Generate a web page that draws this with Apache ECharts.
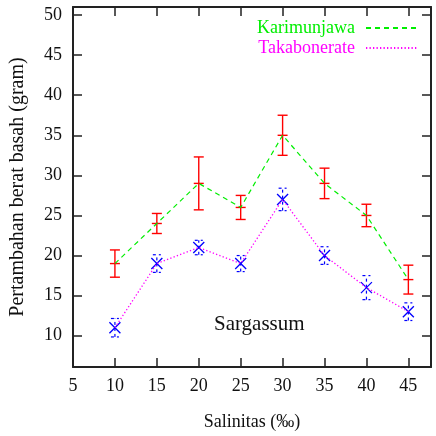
<!DOCTYPE html>
<html>
<head>
<meta charset="utf-8">
<script src="https://cdn.jsdelivr.net/npm/echarts@6/dist/echarts.min.js"></script>
<style>html,body{margin:0;padding:0;background:#fff}#c{width:436px;height:436px}</style>
</head>
<body>
<div id="c"></div>
<script>
var salinity = [10, 15, 20, 25, 30, 35, 40, 45];
var karimunjawa = [19, 24, 29, 26, 35, 29, 25, 17];
var karimunjawaErr = [1.7, 1.25, 3.3, 1.5, 2.5, 1.9, 1.4, 1.8];
var takabonerate = [11, 19, 21, 19, 27, 20, 16, 13];
var takabonerateErr = [1.15, 1.1, 0.9, 1.0, 1.4, 1.1, 1.5, 1.1];
var xTicks = [5, 10, 15, 20, 25, 30, 35, 40, 45];
var yTicks = [10, 15, 20, 25, 30, 35, 40, 45, 50];

var FONT = 'Liberation Serif';
var TXT = '#111';

function pairs(v) { return salinity.map(function (x, i) { return [x, v[i]]; }); }
function errData(v, e) { return salinity.map(function (x, i) { return [x, v[i] - e[i], v[i] + e[i], v[i]]; }); }

function redErr(params, api) {
  var x = api.value(0);
  var lo = api.coord([x, api.value(1)]);
  var hi = api.coord([x, api.value(2)]);
  var c = api.coord([x, api.value(3)]);
  var w = 5;
  var st = { stroke: '#ff0000', lineWidth: 1.4 };
  return { type: 'group', children: [
    { type: 'line', shape: { x1: lo[0], y1: lo[1], x2: hi[0], y2: hi[1] }, style: st },
    { type: 'line', shape: { x1: lo[0] - w, y1: lo[1], x2: lo[0] + w, y2: lo[1] }, style: st },
    { type: 'line', shape: { x1: hi[0] - w, y1: hi[1], x2: hi[0] + w, y2: hi[1] }, style: st },
    { type: 'line', shape: { x1: c[0] - w, y1: c[1], x2: c[0] + w, y2: c[1] }, style: st }
  ]};
}
function blueErr(params, api) {
  var x = api.value(0);
  var lo = api.coord([x, api.value(1)]);
  var hi = api.coord([x, api.value(2)]);
  var c = api.coord([x, api.value(3)]);
  var w = 4, m = 5.5;
  var st = { stroke: '#0000ff', lineWidth: 1.2, lineDash: [3, 3] };
  var sm = { stroke: '#0000ff', lineWidth: 1.3 };
  return { type: 'group', children: [
    { type: 'line', shape: { x1: lo[0], y1: lo[1], x2: hi[0], y2: hi[1] }, style: st },
    { type: 'line', shape: { x1: lo[0] - w, y1: lo[1], x2: lo[0] + w, y2: lo[1] }, style: st },
    { type: 'line', shape: { x1: hi[0] - w, y1: hi[1], x2: hi[0] + w, y2: hi[1] }, style: st },
    { type: 'line', shape: { x1: c[0] - m, y1: c[1] - m, x2: c[0] + m, y2: c[1] + m }, style: sm },
    { type: 'line', shape: { x1: c[0] - m, y1: c[1] + m, x2: c[0] + m, y2: c[1] - m }, style: sm }
  ]};
}

var axLine = { show: true, lineStyle: { color: '#222', width: 2 } };
var chart = echarts.init(document.getElementById('c'), null, { renderer: 'canvas' });
chart.setOption({
  animation: false,
  backgroundColor: '#fff',
  textStyle: { fontFamily: FONT },
  grid: { left: 73, right: 5, top: 7, bottom: 60 },
  title: { text: 'Sargassum', left: 209, top: 309, textStyle: { fontFamily: FONT, fontSize: 21, fontWeight: 'normal', color: TXT } },
  legend: {
    orient: 'vertical', align: 'right', right: 13, top: 14,
    itemWidth: 51, itemHeight: 14, itemGap: 2,
    textStyle: { fontFamily: FONT, fontSize: 18, padding: [0, 6, 0, 0] },
    itemStyle: { color: 'transparent', borderColor: 'transparent', borderWidth: 0 },
    data: [
      { name: 'Karimunjawa', textStyle: { color: '#00ee00' } },
      { name: 'Takabonerate', textStyle: { color: '#ff00ff' } }
    ]
  },
  xAxis: [
    { type: 'value', min: 5, max: 47.7, position: 'bottom',
      name: 'Salinitas (‰)', nameLocation: 'middle', nameGap: 46,
      nameTextStyle: { fontFamily: FONT, fontSize: 18, color: TXT },
      axisLine: axLine, splitLine: { show: false },
      axisTick: { inside: true, length: 9, customValues: xTicks, lineStyle: { color: '#222', width: 1.5 } },
      axisLabel: { customValues: xTicks, fontFamily: FONT, fontSize: 18, color: TXT, margin: 10 } },
    { type: 'value', min: 5, max: 47.7, position: 'top',
      axisLine: axLine, splitLine: { show: false },
      axisTick: { inside: true, length: 9, customValues: xTicks, lineStyle: { color: '#222', width: 1.5 } },
      axisLabel: { show: false } }
  ],
  yAxis: [
    { type: 'value', min: 6.1, max: 51, position: 'left',
      name: 'Pertambahan berat basah (gram)', nameLocation: 'middle', nameGap: 45,
      nameTextStyle: { fontFamily: FONT, fontSize: 20, color: TXT },
      axisLine: axLine, splitLine: { show: false },
      axisTick: { inside: true, length: 9, customValues: yTicks, lineStyle: { color: '#222', width: 1.5 } },
      axisLabel: { customValues: yTicks, fontFamily: FONT, fontSize: 18, color: TXT, margin: 11 } },
    { type: 'value', min: 6.1, max: 51, position: 'right',
      axisLine: axLine, splitLine: { show: false },
      axisTick: { inside: true, length: 9, customValues: yTicks, lineStyle: { color: '#222', width: 1.5 } },
      axisLabel: { show: false } }
  ],
  series: [
    { name: 'Karimunjawa', type: 'line', data: pairs(karimunjawa), symbol: 'none', z: 3,
      lineStyle: { color: '#00ee00', width: 1.2, type: [5, 4] }, itemStyle: { color: '#00ee00' } },
    { name: 'Takabonerate', type: 'line', data: pairs(takabonerate), symbol: 'none', z: 3,
      lineStyle: { color: '#ff00ff', width: 1.3, type: [1.3, 2.2] }, itemStyle: { color: '#ff00ff' } },
    { name: 'errK', type: 'custom', data: errData(karimunjawa, karimunjawaErr), renderItem: redErr, z: 2,
      encode: { x: 0, y: [1, 2, 3] } },
    { name: 'errT', type: 'custom', data: errData(takabonerate, takabonerateErr), renderItem: blueErr, z: 2,
      encode: { x: 0, y: [1, 2, 3] } }
  ]
});
</script>
</body>
</html>
